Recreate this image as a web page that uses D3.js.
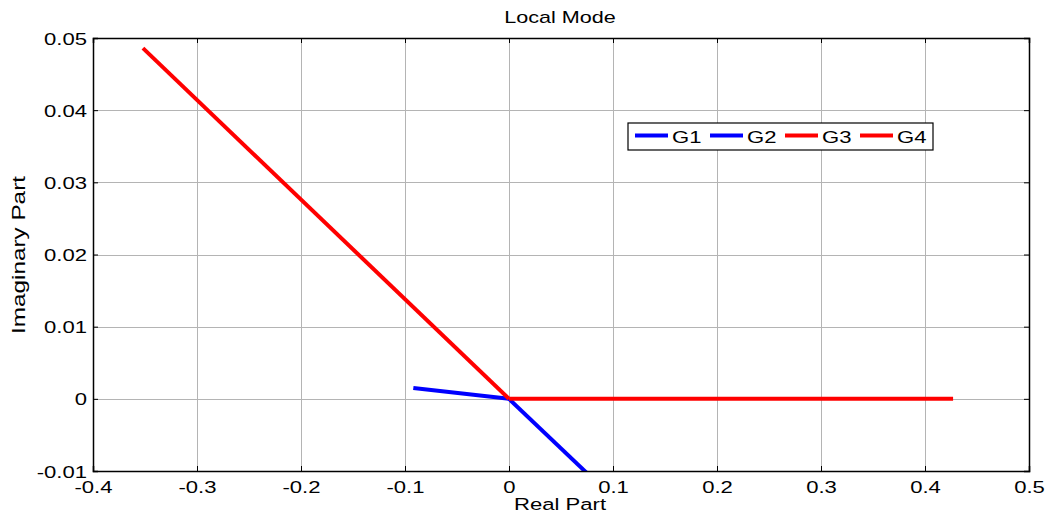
<!DOCTYPE html>
<html>
<head>
<meta charset="utf-8">
<script src="https://d3js.org/d3.v7.min.js"></script>
<style>
  body { margin: 0; background: #fff; }
  text { font-family: "Liberation Sans", Arial, sans-serif; fill: #000; }
  .grid line { stroke: #b4b4b4; stroke-width: 1; }
</style>
</head>
<body>
<div id="chart"></div>
<script>
// series: [real, imaginary] points
var seriesNames = ["G1", "G2", "G3", "G4"];
var seriesColors = ["#0000ff", "#0000ff", "#ff0000", "#ff0000"];
var g1 = [[-0.092, 0.0015], [0, 0]];
var g2 = [[0, 0], [0.075, -0.0103]];
var g3 = [[-0.352, 0.0486], [0, 0]];
var g4 = [[0, 0], [0.427, 0]];
var xTicks = [-0.4, -0.3, -0.2, -0.1, 0, 0.1, 0.2, 0.3, 0.4, 0.5];
var yTicks = [-0.01, 0, 0.01, 0.02, 0.03, 0.04, 0.05];

var W = 1048, H = 518;
var margin = {top: 38, right: 19, bottom: 47, left: 93};
var width = W - margin.left - margin.right,
    height = H - margin.top - margin.bottom;
var SX = 1.3; // the picture's text is a bit wide

var svg = d3.select("#chart").append("svg")
    .attr("width", W)
    .attr("height", H);

var g = svg.append("g")
    .attr("transform", "translate(" + margin.left + "," + margin.top + ")");

var x = d3.scaleLinear().domain([-0.4, 0.5]).range([0, width]);
var y = d3.scaleLinear().domain([-0.01, 0.05]).range([height, 0]);

// stretch text horizontally around its x anchor
function stretch(sel, sx) {
  sel.attr("transform", function() {
    var tx = +this.getAttribute("x") || 0;
    return "translate(" + tx + ",0)scale(" + sx + ",1)translate(" + (-tx) + ",0)";
  });
}

// grid
g.append("g").attr("class", "grid")
  .selectAll("line").data(xTicks.slice(1, -1)).enter().append("line")
    .attr("x1", function(d) { return Math.round(x(d)) + 0.5; })
    .attr("x2", function(d) { return Math.round(x(d)) + 0.5; })
    .attr("y1", 0).attr("y2", height);
g.append("g").attr("class", "grid")
  .selectAll("line").data(yTicks.slice(1, -1)).enter().append("line")
    .attr("y1", function(d) { return Math.round(y(d)) + 0.5; })
    .attr("y2", function(d) { return Math.round(y(d)) + 0.5; })
    .attr("x1", 0).attr("x2", width);

// lines
var line = d3.line()
    .x(function(d) { return x(d[0]); })
    .y(function(d) { return y(d[1]); });

g.append("clipPath").attr("id", "clip")
  .append("rect").attr("width", width).attr("height", height);

var allSeries = [g1, g2, g3, g4];
g.append("g").attr("clip-path", "url(#clip)")
  .selectAll("path").data(allSeries).enter().append("path")
    .attr("d", line)
    .attr("fill", "none")
    .attr("stroke", function(d, i) { return seriesColors[i]; })
    .attr("stroke-width", 4);

// axes, MATLAB style: ticks inward on all four sides
function fmt(d) { return d === 0 ? "0" : String(+d.toFixed(2)); }

var xAxis = d3.axisBottom(x).tickValues(xTicks).tickSize(-5).tickPadding(6).tickFormat(fmt);
var yAxis = d3.axisLeft(y).tickValues(yTicks).tickSize(-5).tickPadding(6).tickFormat(fmt);

var xg = g.append("g").attr("transform", "translate(0," + height + ")").call(xAxis);
var yg = g.append("g").call(yAxis);
g.append("g").call(d3.axisTop(x).tickValues(xTicks).tickSize(-5).tickFormat(""));
g.append("g").attr("transform", "translate(" + width + ",0)")
  .call(d3.axisRight(y).tickValues(yTicks).tickSize(-5).tickFormat(""));

g.selectAll(".domain").attr("stroke", "#000").attr("stroke-width", 1.5);
g.selectAll(".tick line").attr("stroke", "#000");
xg.selectAll("text").style("font-size", "17px").attr("y", 22).attr("dy", 0).call(stretch, SX);
yg.selectAll("text").style("font-size", "17px").attr("dy", "0.36em").call(stretch, SX);

// labels
svg.append("text")
  .attr("x", 560).attr("y", 23)
  .attr("text-anchor", "middle")
  .style("font-size", "17px")
  .text("Local Mode")
  .call(stretch, 1.27);
svg.append("text")
  .attr("x", 560).attr("y", 510)
  .attr("text-anchor", "middle")
  .style("font-size", "17px")
  .text("Real Part")
  .call(stretch, 1.3);
svg.append("text")
  .attr("transform", "translate(25,255)rotate(-90)scale(1.35,1)")
  .attr("text-anchor", "middle")
  .style("font-size", "18px")
  .text("Imaginary Part");

// legend
var legend = svg.append("g").attr("transform", "translate(628,123)");
legend.append("rect")
  .attr("width", 305).attr("height", 27)
  .attr("fill", "#fff").attr("stroke", "#000").attr("stroke-width", 1.2);
var itemW = 75;
var items = legend.selectAll(".item").data(seriesNames).enter().append("g")
  .attr("transform", function(d, i) { return "translate(" + (7 + i * itemW) + ",0)"; });
items.append("line")
  .attr("x1", 0).attr("x2", 33).attr("y1", 12.5).attr("y2", 12.5)
  .attr("stroke", function(d, i) { return seriesColors[i]; })
  .attr("stroke-width", 4);
items.append("text")
  .attr("x", 37).attr("y", 20)
  .style("font-size", "17px")
  .text(function(d) { return d; })
  .call(stretch, SX);
</script>
</body>
</html>
